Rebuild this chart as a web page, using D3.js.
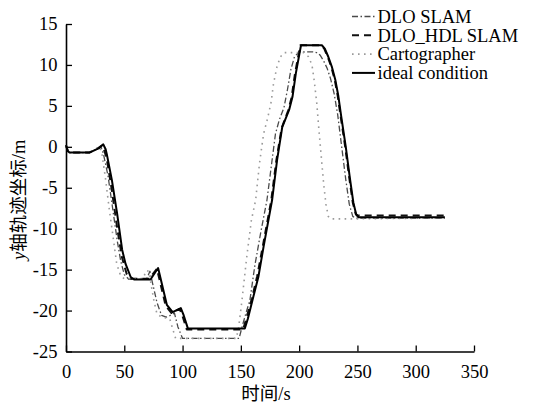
<!DOCTYPE html>
<html>
<head>
<meta charset="utf-8">
<script src="https://cdn.jsdelivr.net/npm/d3@7"></script>
<style>
  html, body { margin: 0; padding: 0; background: #fff; }
  svg text { font-family: "Liberation Serif", "Times New Roman", "Noto Sans CJK SC", serif; }
</style>
</head>
<body>
<svg id="chart" width="535" height="410"></svg>
<script>
// Trajectory y-coordinate (m) over time (s), as [t, y] pairs.
const dloSlam = [
  [0,0.2],[1.5,-0.5],[3,-0.7],[20,-0.7],[26,-0.3],[30,0],[32,-0.8],[36,-3.5],[40,-7.5],
  [44,-11.5],[47,-14],[50,-15.6],[54,-16.2],[69,-16.2],[72,-15.2],[74,-16.5],[78,-19],
  [82,-20.6],[86,-20.8],[91,-20.5],[93,-20.3],[96,-22],[100,-23.4],[148.5,-23.4],[151,-22],
  [154,-20.5],[157.8,-18.7],[162,-14.5],[167,-10.5],[172.4,-6.5],[176,-2.5],[179.7,1.6],
  [183,3.3],[187,4.8],[190,7],[193,9.5],[196,11],[200,11.6],[212,11.6],[215,11.5],[218,11.2],
  [221,10.5],[224,9.6],[227,8.3],[230,6.5],[233,4],[236.5,0],[240,-4],[243,-7],[246,-8.5],
  [248,-8.7],[325,-8.7]
];
const dloHdlSlam = [
  [0,0.2],[1.5,-0.5],[3,-0.7],[20,-0.7],[27,-0.2],[31,0.2],[33,-0.5],[35,-1.5],[39,-5],
  [44,-10],[48,-13.5],[52,-15.5],[56,-16.1],[71.5,-16.1],[78,-14.9],[80,-16.1],[83,-17.9],
  [85.5,-19.4],[90.5,-20.3],[97.5,-19.8],[100,-20.7],[103.6,-22.3],[152,-22.3],[155,-20.8],
  [159.5,-18.5],[164,-15.8],[169,-12],[176,-6.6],[180.5,-1.6],[185,2.3],[190.5,4.4],
  [193.5,6],[196.5,9],[201,12.4],[219,12.4],[221.5,12],[224.5,11],[227.5,9.8],[230.5,8.2],
  [233,6.3],[235.5,3.8],[239.5,0],[243,-3.8],[246,-6.8],[248.5,-8.2],[250.5,-8.4],[325,-8.4]
];
const cartographer = [
  [0,0.2],[1.5,-0.5],[3,-0.7],[20,-0.7],[25,-0.3],[29,0],[31,-1],[34,-4],[37,-7.5],
  [40,-10.6],[43.5,-14.3],[47,-15.8],[50,-16.1],[66,-16.1],[69,-15.1],[71,-15.2],[73,-16.8],
  [75,-18.5],[78,-20.4],[82,-20.8],[89,-21],[91,-22],[94,-23.4],[146,-23.4],[148,-22.2],
  [151,-18.7],[155,-13.5],[159,-9],[162.7,-6.5],[166,-2],[169.5,1.6],[173,3.5],[176,5.5],
  [178,7.7],[181,9.8],[184,11],[187,11.5],[204,11.5],[208,11],[211,10],[213,8],[215,5.5],
  [217,2],[219,-1.2],[221,-4.5],[223,-7],[225,-8.5],[227,-8.8],[248,-8.8],[325,-8.7]
];
const ideal = [
  [0,0.2],[1.5,-0.5],[3,-0.7],[20,-0.7],[28,-0.2],[32,0.3],[34,-0.3],[35,-0.9],[39.4,-4.1],
  [43.8,-8.1],[48.2,-12.6],[51.1,-14.3],[55.5,-15.9],[58.4,-16.2],[72.5,-16.2],[79,-14.8],
  [81,-16],[84,-17.8],[86.5,-19.3],[91.5,-20.2],[98.5,-19.7],[101,-20.6],[104.6,-22.2],
  [153.4,-22.2],[156,-21],[160.7,-18.3],[165,-15.9],[169.5,-12.2],[176.8,-6.5],[181.1,-1.6],
  [185.5,2.4],[191.4,4.5],[194.3,6.1],[197.2,9],[201.6,12.4],[219.5,12.4],[222,12],[225,11],
  [228,9.8],[231,8.2],[233.5,6.3],[236,3.8],[240,0],[243.5,-3.8],[246.5,-6.8],[249,-8.3],
  [251,-8.6],[325,-8.6]
];

const seriesNames = ["DLO SLAM", "DLO_HDL SLAM", "Cartographer", "ideal condition"];
const xTicks = [0, 50, 100, 150, 200, 250, 300, 350];
const yTicks = [-25, -20, -15, -10, -5, 0, 5, 10, 15];

const series = [
  { name: seriesNames[0], data: dloSlam,      color: "#4a4a4a", width: 1.3, dash: "6,2.5,1.5,2.5" },
  { name: seriesNames[1], data: dloHdlSlam,   color: "#111",    width: 2,   dash: "7,5" },
  { name: seriesNames[2], data: cartographer, color: "#9a9a9a", width: 1.6, dash: "1.6,4.4" },
  { name: seriesNames[3], data: ideal,        color: "#000",    width: 2,   dash: null }
];

const svg = d3.select("#chart");
const plotLeft = 66, plotRight = 474, plotTop = 24, plotBottom = 351.5;

const x = d3.scaleLinear().domain([0, 350]).range([plotLeft, plotRight]);
const y = d3.scaleLinear().domain([-25, 15]).range([plotBottom, plotTop]);

// Axes: left and bottom only, with inward ticks
const fmt = d => String(d);
const xAxis = svg.append("g")
  .attr("transform", `translate(0,${plotBottom})`)
  .call(d3.axisBottom(x).tickValues(xTicks).tickSizeInner(-6).tickSizeOuter(0).tickPadding(13).tickFormat(fmt));
const yAxis = svg.append("g")
  .attr("transform", `translate(${plotLeft},0)`)
  .call(d3.axisLeft(y).tickValues(yTicks).tickSizeInner(-6).tickSizeOuter(0).tickPadding(14).tickFormat(fmt));

[xAxis, yAxis].forEach(g => {
  g.select(".domain").attr("stroke", "#000").attr("stroke-width", 1.6);
  g.selectAll(".tick line").attr("stroke", "#000").attr("stroke-width", 1.3);
  g.selectAll(".tick text")
    .attr("fill", "#000")
    .style("font-size", "18.5px")
    .style("font-family", "'Liberation Serif', 'Times New Roman', serif");
});
yAxis.selectAll(".tick text").attr("x", -8.5);

// Series lines
const line = d3.line().x(d => x(d[0])).y(d => y(d[1]));
svg.append("g").selectAll("path")
  .data(series)
  .join("path")
  .attr("d", s => line(s.data))
  .attr("fill", "none")
  .attr("stroke", s => s.color)
  .attr("stroke-width", s => s.width)
  .attr("stroke-dasharray", s => s.dash)
  .attr("stroke-linejoin", "round");

// Legend, top right
const legend = svg.append("g");
const rowY = i => 16.5 + i * 18.8;
legend.selectAll("line")
  .data(series)
  .join("line")
  .attr("x1", 352).attr("x2", 375)
  .attr("y1", (s, i) => rowY(i)).attr("y2", (s, i) => rowY(i))
  .attr("stroke", s => s.color)
  .attr("stroke-width", s => s.width)
  .attr("stroke-dasharray", s => s.dash);
legend.selectAll("text")
  .data(series)
  .join("text")
  .attr("x", 377.5)
  .attr("y", (s, i) => rowY(i) + 6.3)
  .style("font-size", "18.5px")
  .attr("fill", "#000")
  .text(s => s.name);

// Axis titles
svg.append("text")
  .attr("x", (plotLeft + plotRight) / 2 - 4)
  .attr("y", 400)
  .attr("text-anchor", "middle")
  .style("font-size", "18.5px")
  .attr("fill", "#000")
  .text("时间/s");

const yTitle = svg.append("text")
  .attr("transform", `translate(24.5,${(plotTop + plotBottom) / 2 + 12}) rotate(-90)`)
  .attr("text-anchor", "middle")
  .style("font-size", "18.5px")
  .attr("fill", "#000");
yTitle.append("tspan").style("font-style", "italic").text("y");
yTitle.append("tspan").text("轴轨迹坐标/m");
</script>
</body>
</html>
